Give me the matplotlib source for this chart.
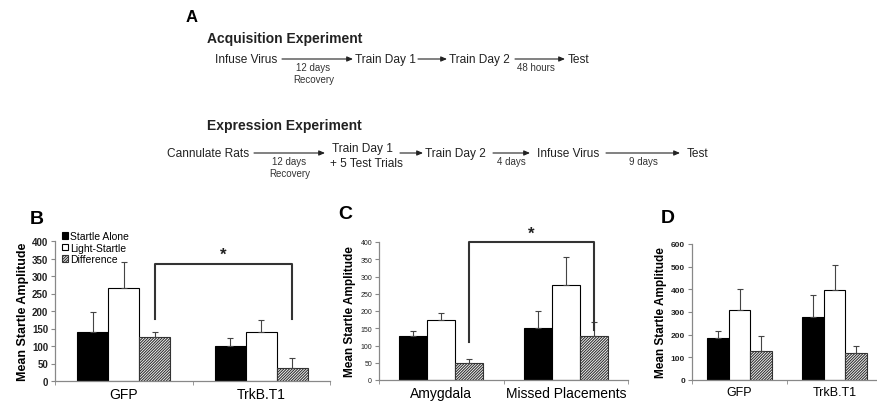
import matplotlib
matplotlib.use("Agg")
import matplotlib.pyplot as plt
import numpy as np

plt.rcParams['font.family'] = ['Liberation Sans', 'DejaVu Sans']
plt.rcParams['hatch.linewidth'] = 0.8

# ---------------- data ----------------
series_names = ['Startle Alone', 'Light-Startle', 'Difference']

groups_B = ['GFP', 'TrkB.T1']
B_alone = [140, 101]
B_alone_err = [56, 21]
B_light = [265, 141]
B_light_err = [75, 33]
B_diff = [126, 38]
B_diff_err = [15, 27]

groups_C = ['Amygdala', 'Missed Placements']
C_alone = [128, 152]
C_alone_err = [14, 48]
C_light = [173, 276]
C_light_err = [22, 81]
C_diff = [48, 128]
C_diff_err = [12, 40]

groups_D = ['GFP', 'TrkB.T1']
D_alone = [185, 278]
D_alone_err = [33, 97]
D_light = [310, 395]
D_light_err = [90, 113]
D_diff = [128, 118]
D_diff_err = [67, 30]

# panel A timeline text
acq_steps = ['Infuse Virus', 'Train Day 1', 'Train Day 2', 'Test']
acq_notes = ['12 days\nRecovery', '', '48 hours']
exp_steps = ['Cannulate Rats', 'Train Day 1\n+ 5 Test Trials', 'Train Day 2', 'Infuse Virus', 'Test']
exp_notes = ['12 days\nRecovery', '', '4 days', '9 days']

W, H = 877, 402
fig = plt.figure(figsize=(W / 100, H / 100), dpi=100)

# ---------------- panel A (diagram) ----------------
axA = fig.add_axes([0, 0, 1, 1])
axA.set_xlim(0, W)
axA.set_ylim(H, 0)
axA.axis('off')

def arrow(x0, x1, y):
    axA.annotate('', xy=(x1, y), xytext=(x0, y),
                 arrowprops=dict(arrowstyle='-|>,head_length=0.35,head_width=0.15',
                                 lw=0.8, color='#222', shrinkA=0, shrinkB=0))

axA.text(186, 18, 'A', fontsize=12, fontweight='bold', ha='left', va='center')
axA.text(207, 39, 'Acquisition Experiment', fontsize=10, fontweight='bold', ha='left', va='center', color='#222')
axA.text(207, 126, 'Expression Experiment', fontsize=10, fontweight='bold', ha='left', va='center', color='#222')

fs = 8.6
nfs = 7
acq_x = [215, 355, 449, 568]
for s, x in zip(acq_steps, acq_x):
    axA.text(x, 60, s, fontsize=fs, ha='left', va='center', color='#222')
acq_arrows = [(282, 353), (418, 447), (515, 565)]
for (a, b) in acq_arrows:
    arrow(a, b, 60)
for n, (a, b) in zip(acq_notes, acq_arrows):
    if n:
        axA.text((a + b) / 2 - 4, 63, n, fontsize=nfs, ha='center', va='top', color='#333', linespacing=1.3)

exp_x = [167, 330, 425, 537, 687]
for s, x in zip(exp_steps, exp_x):
    if '\n' in s:
        l1, l2 = s.split('\n')
        axA.text(x + 2, 149, l1, fontsize=fs, ha='left', va='center', color='#222')
        axA.text(x, 164, l2, fontsize=fs, ha='left', va='center', color='#222')
    else:
        axA.text(x, 154, s, fontsize=fs, ha='left', va='center', color='#222')
exp_arrows = [(254, 325), (400, 423), (493, 530), (606, 680)]
for (a, b) in exp_arrows:
    arrow(a, b, 154)
for n, (a, b) in zip(exp_notes, exp_arrows):
    if n:
        axA.text((a + b) / 2, 157, n, fontsize=nfs, ha='center', va='top', color='#333', linespacing=1.3)

# ---------------- bar panels ----------------
def px_axes(left, right, top, bottom):
    return fig.add_axes([left / W, 1 - bottom / H, (right - left) / W, (bottom - top) / H])

def bar_panel(ax, groups, vals, errs, ymax, ystep, tick_fs, tick_bold, xfs):
    x = np.arange(len(groups))
    w = 0.225
    styles = [dict(color='black', edgecolor='black'),
              dict(color='white', edgecolor='black'),
              dict(color='white', edgecolor='#333', hatch='////////////')]
    bars = []
    for i, (v, e, st) in enumerate(zip(vals, errs, styles)):
        xs = x + (i - 1) * w
        b = ax.bar(xs, v, width=w, linewidth=0.8, zorder=2, **st)
        bars.append(b)
        ax.errorbar(xs, v, yerr=[np.zeros(len(e)), e], fmt='none', ecolor='#444',
                    elinewidth=0.8, capsize=2.5, capthick=0.8, zorder=3)
    ax.set_xlim(-0.5, len(groups) - 0.5)
    ax.set_ylim(0, ymax)
    ax.set_yticks(np.arange(0, ymax + 1, ystep))
    ax.set_xticks(x)
    ax.set_xticklabels(groups, fontsize=xfs)
    ax.set_xticks(np.arange(-0.5, len(groups), 1.0), minor=True)
    ax.tick_params(axis='x', which='major', length=0, pad=4)
    ax.tick_params(axis='x', which='minor', length=3, color='#888', direction='out')
    ax.tick_params(axis='y', length=3, color='#888', labelsize=tick_fs, pad=2)
    for lab in ax.get_yticklabels():
        if tick_bold:
            lab.set_fontweight('bold')
        lab.set_color('#222')
    for sp in ['top', 'right']:
        ax.spines[sp].set_visible(False)
    for sp in ['left', 'bottom']:
        ax.spines[sp].set_color('#888')
        ax.spines[sp].set_linewidth(0.9)
    return bars

def bracket(ax, x0, x1, y0, y1, ytop, ystar):
    ax.plot([x0, x0, x1, x1], [y0, ytop, ytop, y1], color='#333', lw=1.5, clip_on=False, zorder=4)
    ax.text((x0 + x1) / 2, ystar, '*', ha='center', va='center', fontsize=12, fontweight='bold',
            color='#222', clip_on=False)

# B
axB = px_axes(55, 330, 242, 382)
barsB = bar_panel(axB, groups_B, [B_alone, B_light, B_diff], [B_alone_err, B_light_err, B_diff_err],
                  400, 50, 7, True, 10)
axB.set_ylabel('Mean Startle Amplitude', fontsize=9, fontweight='bold', labelpad=2)
bracket(axB, 0.225, 1.225, 177, 177, 335, 362)
leg = axB.legend(barsB, series_names, loc='upper left', bbox_to_anchor=(0.01, 1.1), frameon=False,
                 fontsize=7.5, handlelength=0.55, handleheight=0.55, handletextpad=0.25,
                 labelspacing=0.15, borderaxespad=0)
fig.text(30 / W, 1 - 220 / H, 'B', fontsize=14, fontweight='bold', ha='left', va='center')

# C
axC = px_axes(379, 628, 243, 381)
bar_panel(axC, groups_C, [C_alone, C_light, C_diff], [C_alone_err, C_light_err, C_diff_err],
          400, 50, 5, False, 10)
axC.set_ylabel('Mean Startle Amplitude', fontsize=8.5, fontweight='bold', labelpad=3)
bracket(axC, 0.225, 1.225, 110, 144, 400, 424)
fig.text(338 / W, 1 - 215 / H, 'C', fontsize=14, fontweight='bold', ha='left', va='center')

# D
axD = px_axes(692, 882, 245, 381)
bar_panel(axD, groups_D, [D_alone, D_light, D_diff], [D_alone_err, D_light_err, D_diff_err],
          600, 100, 6, True, 9)
axD.set_ylabel('Mean Startle Amplitude', fontsize=8.5, fontweight='bold', labelpad=3)
fig.text(661 / W, 1 - 219 / H, 'D', fontsize=14, fontweight='bold', ha='left', va='center')

fig.savefig('out.png', dpi=100)
